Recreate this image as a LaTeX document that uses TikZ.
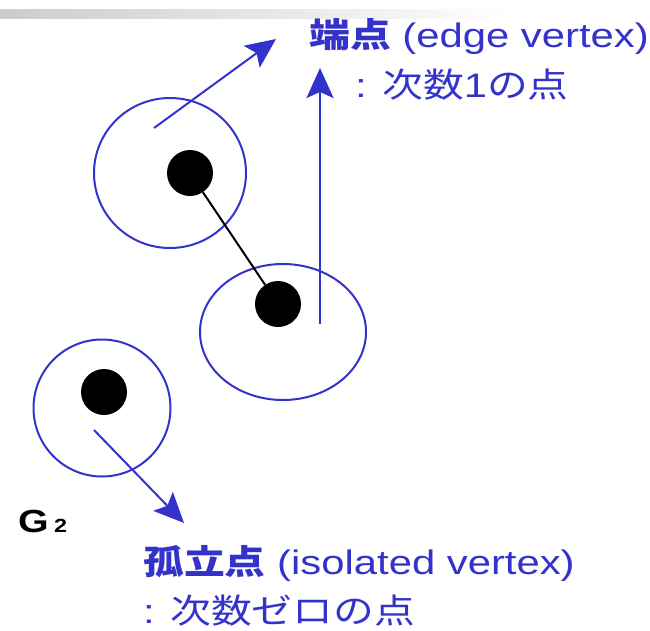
\documentclass[tikz,border=0pt]{standalone}
\usepackage{fontspec}
\setmainfont[FakeStretch=1.23]{Liberation Sans}
\newfontfamily\jp[FakeStretch=1.2]{Noto Sans CJK JP}
\usetikzlibrary{arrows.meta,shapes.geometric}
\definecolor{diagblue}{RGB}{51,51,204}
\tikzset{
  ring/.style={draw=diagblue, line width=2pt, ellipse},
  dot/.style={circle, fill=black, inner sep=0pt, minimum size=46pt},
  pointer/.style={draw=diagblue, line width=2pt,
    -{Stealth[length=30pt,width=27pt,inset=6pt]}},
  label/.style={anchor=base west, text=diagblue, inner sep=0pt,
    font=\fontsize{34}{40}\selectfont},
}
\begin{document}
\begin{tikzpicture}[x=1pt,y=-1pt]
  \useasboundingbox (0,0) rectangle (650,630);
  \shade[left color=black!20, right color=white] (0,9) rectangle (510,18);

  % vertex rings
  \node[ring, minimum width=152pt, minimum height=150pt] (ea) at (170,173) {};
  \node[ring, minimum width=166pt, minimum height=136pt] (eb) at (283,332) {};
  \node[ring, minimum width=137pt, minimum height=137pt] (ec) at (102,408) {};

  % vertices
  \node[dot] (va) at (190,173) {};
  \node[dot] (vb) at (278,304) {};
  \node[dot] (vc) at (104,392) {};
  \draw[line width=2pt] (va) -- (vb);

  % arrow ends
  \coordinate (sa) at (154,128);
  \coordinate (ta) at (276,39);
  \coordinate (sb) at (320,324);
  \coordinate (tb) at (320,68);
  \coordinate (sc) at (94,430);
  \coordinate (tc) at (184,523);
  \draw[pointer] (sa) -- (ta);
  \draw[pointer] (sb) -- (tb);
  \draw[pointer] (sc) -- (tc);

  % Labels
  \node[label] (edge) at (309,47) {{\jp\bfseries 端点} (edge vertex)};
  \node[label] (edgedeg) at (355,97) {: {\jp 次数}1{\jp の点}};
  \node[label] (iso) at (143,574) {{\jp\bfseries 孤立点} (isolated vertex)};
  \node[label] (isodeg) at (143,623) {: {\jp 次数ゼロの点}};
  \node[anchor=base west, inner sep=0pt, font=\fontsize{32}{36}\selectfont\bfseries]
    (gname) at (18,532) {G\,{\fontsize{19}{22}\selectfont 2}};
\end{tikzpicture}
\end{document}
